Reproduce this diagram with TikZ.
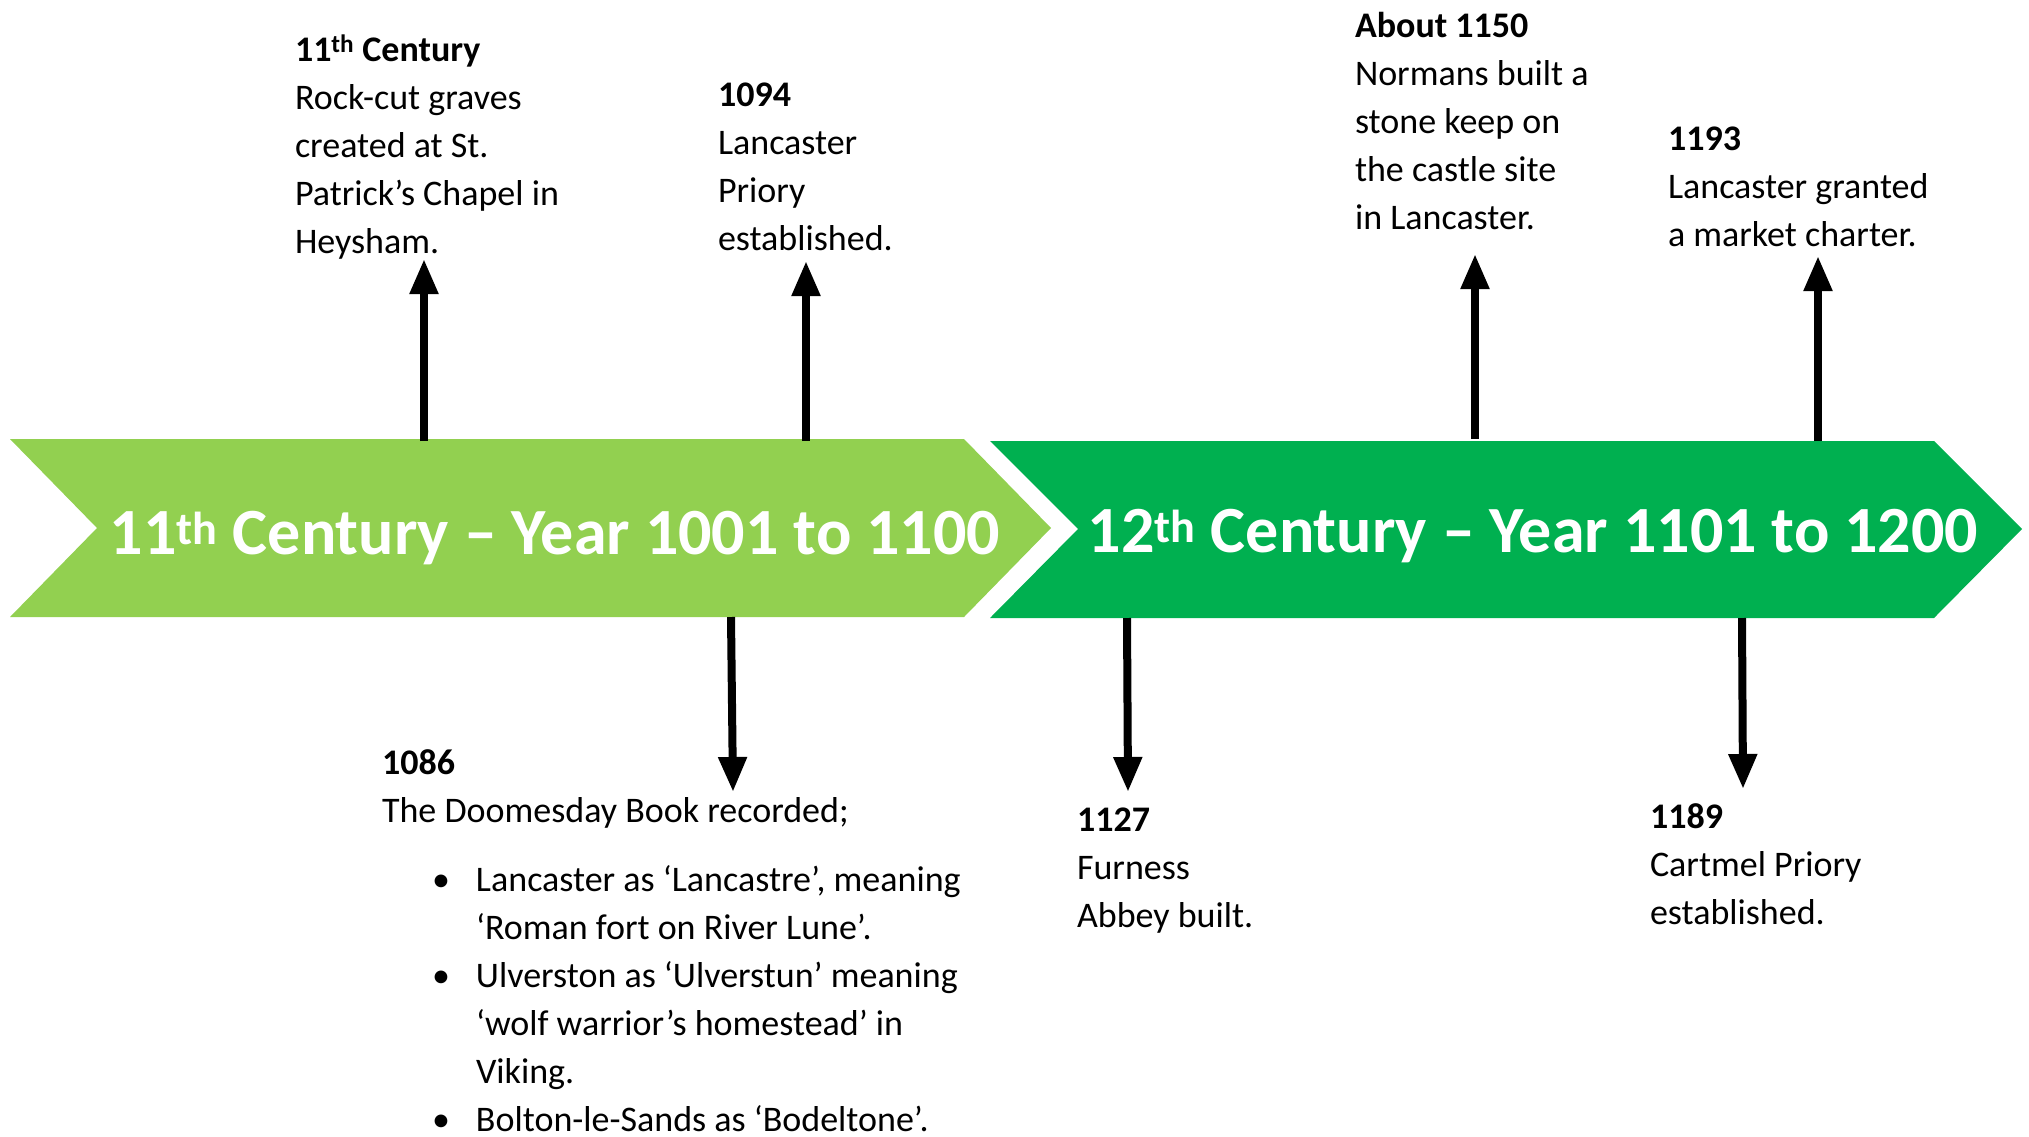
\documentclass[tikz,border=0pt]{standalone}
\usepackage{fontspec}
\setmainfont{Carlito}
\usetikzlibrary{arrows.meta}
\definecolor{lightgreen}{HTML}{92D050}
\definecolor{darkgreen}{HTML}{00B050}
\newcommand{\evbullet}{\makebox[94pt][l]{\hspace{50pt}\textbullet}}
\newcommand{\evindent}{\hspace*{94pt}}
\begin{document}
\begin{tikzpicture}[x=1pt,y=-1pt,
    info/.style={anchor=north west,inner sep=0pt,align=left,font=\fontsize{36}{48}\selectfont},
    era/.style={anchor=base,inner sep=0pt,text=white,font=\fontsize{66}{70}\selectfont\bfseries}]
        \useasboundingbox (0,0) rectangle (2029,1136);
        \begin{scope}[>={Triangle[width=27pt,length=35pt]},line width=8pt]

          \fill[lightgreen] (10,439) -- (964,439) -- (1051,528) -- (964,617) -- (10,617) -- (97,528) -- cycle;
          \fill[darkgreen] (990,441) -- (1934,441) -- (2022,529) -- (1934,618) -- (990,618) -- (1078,529) -- cycle;

          \node (c11) at (555,554) [era]{11\textsuperscript{th} Century -- Year 1001 to 1100};
          \node (c12) at (1533,552) [era]{12\textsuperscript{th} Century -- Year 1101 to 1200};

          \node (t11) at (291,31) [info]{\textbf{11\textsuperscript{th} Century}\\Rock-cut graves\\created at St.\\Patrick’s Chapel in\\Heysham.};
          \node (t1094) at (714,79) [info]{\textbf{1094}\\Lancaster\\Priory\\established.};
          \node (t1150) at (1351,8) [info]{\textbf{About 1150}\\Normans built a\\stone keep on\\the castle site\\in Lancaster.};
          \node (t1193) at (1664,123) [info]{\textbf{1193}\\Lancaster granted\\a market charter.};
          \node (t1086) at (378,746) [info]{\textbf{1086}\\The Doomesday Book recorded;\\[21pt]
            \evbullet Lancaster as ‘Lancastre’, meaning\\
            \evindent ‘Roman fort on River Lune’.\\
            \evbullet Ulverston as ‘Ulverstun’ meaning\\
            \evindent ‘wolf warrior’s homestead’ in\\
            \evindent Viking.\\
            \evbullet Bolton-le-Sands as ‘Bodeltone’.};
          \node (t1127) at (1073,804) [info]{\textbf{1127}\\Furness\\Abbey built.};
          \node (t1189) at (1646,800) [info]{\textbf{1189}\\Cartmel Priory\\established.};

          \coordinate (s11) at (424,441);
          \coordinate (e11) at (424,259);
          \coordinate (s1094) at (806,441);
          \coordinate (e1094) at (806,261);
          \coordinate (s1150) at (1475,439);
          \coordinate (e1150) at (1475,254);
          \coordinate (s1193) at (1818,441);
          \coordinate (e1193) at (1818,256);
          \coordinate (s1086) at (731,617);
          \coordinate (e1086) at (733,792);
          \coordinate (s1127) at (1127,618);
          \coordinate (e1127) at (1128,792);
          \coordinate (s1189) at (1742,618);
          \coordinate (e1189) at (1743,789);

          \draw[->] (s11) -- (e11);
          \draw[->] (s1094) -- (e1094);
          \draw[->] (s1150) -- (e1150);
          \draw[->] (s1193) -- (e1193);
          \draw[->] (s1086) -- (e1086);
          \draw[->] (s1127) -- (e1127);
          \draw[->] (s1189) -- (e1189);

        \end{scope}
        \end{tikzpicture}
\end{document}
